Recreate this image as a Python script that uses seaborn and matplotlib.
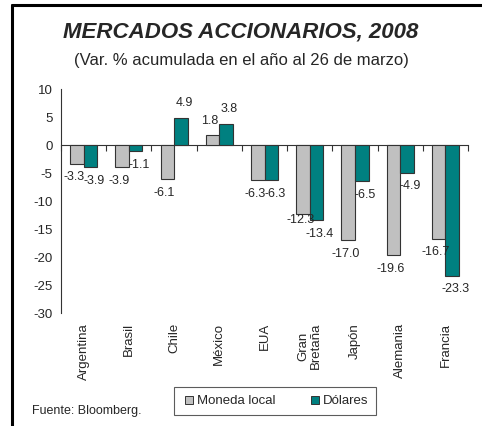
import pandas as pd
import numpy as np
import seaborn as sns
from matplotlib import pyplot as plt
from matplotlib.lines import Line2D

# datos: variacion % acumulada en el año al 26 de marzo
paises = ["Argentina", "Brasil", "Chile", "México", "EUA",
          "Gran\nBretaña", "Japón", "Alemania", "Francia"]
moneda_local = [-3.3, -3.9, -6.1, 1.8, -6.3, -12.3, -17.0, -19.6, -16.7]
dolares = [-3.9, -1.1, 4.9, 3.8, -6.3, -13.4, -6.5, -4.9, -23.3]
series = ["Moneda local", "Dólares"]
y_ticks = [-30, -25, -20, -15, -10, -5, 0, 5, 10]

df = pd.DataFrame({
    "pais": paises * 2,
    "serie": [series[0]] * len(paises) + [series[1]] * len(paises),
    "valor": moneda_local + dolares,
})

sns.set_style("white")
plt.rcParams["font.family"] = ["Liberation Sans", "DejaVu Sans"]

colores = {"Moneda local": "#C0C0C0", "Dólares": "#008080"}

fig = plt.figure(figsize=(4.82, 4.26), dpi=100)
ax = fig.add_axes([0.1266, 0.265, 0.8444, 0.526])

sns.barplot(data=df, x="pais", y="valor", hue="serie", palette=colores,
            width=0.6, edgecolor="#333333", linewidth=0.8, ax=ax,
            legend=False, saturation=1)

ax.set_ylim(-30, 10)
ax.set_xlim(-0.5, len(paises) - 0.5)
ax.set_yticks(y_ticks)
ax.set_yticklabels([str(t) for t in y_ticks], fontsize=9.5)
ax.set_xlabel("")
ax.set_ylabel("")
ax.set_xticks(range(len(paises)))
ax.set_xticklabels(paises, rotation=90, fontsize=9.5, va="top", linespacing=1.0)
ax.tick_params(axis="x", length=0, pad=7)
ax.tick_params(axis="y", direction="out", length=4, width=0.8, color="#333333", pad=2)
for s in ["top", "right", "bottom"]:
    ax.spines[s].set_visible(False)
ax.spines["left"].set_color("#333333")
ax.spines["left"].set_linewidth(0.8)

# eje en cero con marcas entre categorias
cero = ax.secondary_xaxis(0.75)
cero.set_xticks(np.arange(-0.5, len(paises), 1.0))
cero.set_xticklabels([])
cero.tick_params(direction="in", length=4, width=0.8, color="#333333")
cero.spines["bottom"].set_visible(False)
cero.spines["top"].set_color("#333333")
cero.spines["top"].set_linewidth(0.8)

# etiquetas de valores (la de -12.3 va un poco mas arriba, como en el original)
ajuste = {("Moneda local", "Gran\nBretaña"): 6}
for cont, vals, serie, dx in zip(ax.containers, [moneda_local, dolares], series, [-2, 2.5]):
    for bar, v, p in zip(cont, vals, paises):
        xc = bar.get_x() + bar.get_width() / 2
        extra = ajuste.get((serie, p), 0)
        if v >= 0:
            ax.annotate(f"{v:.1f}", (xc, v), xytext=(dx, 6), textcoords="offset points",
                        ha="center", va="bottom", fontsize=9)
        else:
            ax.annotate(f"{v:.1f}", (xc, v), xytext=(dx, -10 + extra),
                        textcoords="offset points", ha="center", va="center", fontsize=9)

fig.text(0.5, 0.925, "MERCADOS ACCIONARIOS, 2008", ha="center", va="center",
         fontsize=16, fontweight="bold", fontstyle="italic")
fig.text(0.5, 0.859, "(Var. % acumulada en el año al 26 de marzo)", ha="center",
         va="center", fontsize=12)
fig.text(0.066, 0.035, "Fuente: Bloomberg.", ha="left", va="center", fontsize=9)

handles = [Line2D([], [], marker="s", linestyle="none", markersize=6,
                  markerfacecolor=colores[s], markeredgecolor="#333333",
                  markeredgewidth=0.7) for s in series]
leg = fig.legend(handles, series, loc="center", bbox_to_anchor=(0.571, 0.0585),
                 ncol=2, fontsize=9.5, frameon=True, fancybox=False,
                 handletextpad=0.1, columnspacing=2.5, borderpad=0.6,
                 handlelength=1.0)
leg.get_frame().set_edgecolor("#333333")
leg.get_frame().set_linewidth(0.8)

# marco de la figura
fig.add_artist(Line2D([0.025, 1.0], [0.988, 0.988], color="black", lw=2.2))
fig.add_artist(Line2D([0.025, 0.025], [0.0, 0.988], color="black", lw=2.2))

fig.savefig("out.png", dpi=100)
